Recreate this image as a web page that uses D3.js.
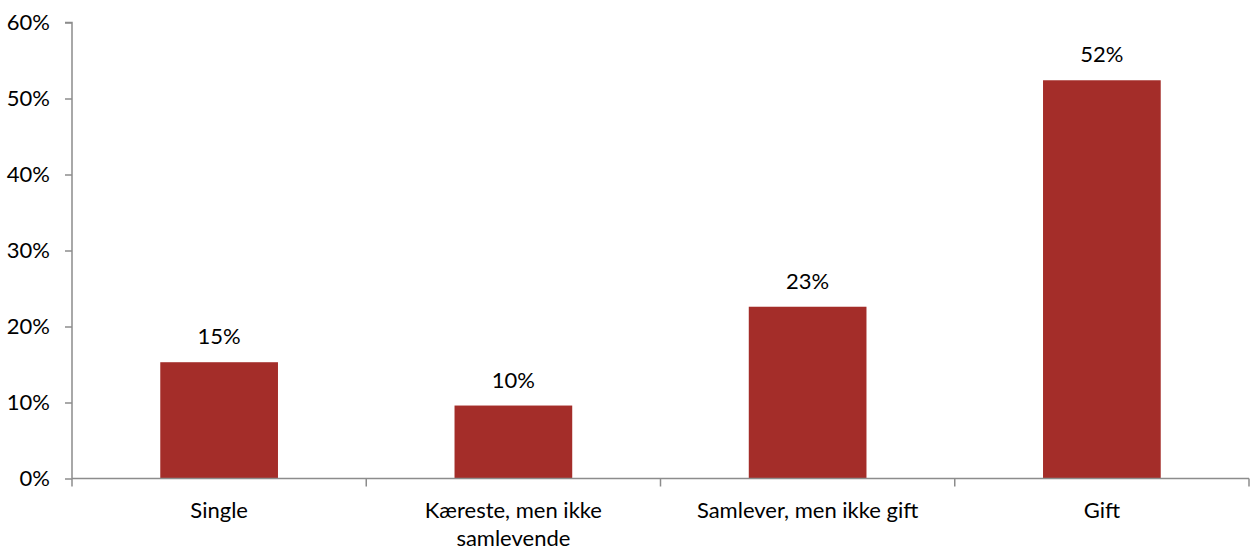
<!DOCTYPE html>
<html><head><meta charset="utf-8">
<script src="https://cdn.jsdelivr.net/npm/d3@7"></script>
<style>body{margin:0;background:#fff}svg text{font-family:Lato,"Open Sans",sans-serif;fill:#000}</style>
</head><body><svg id="c" width="1250" height="546"></svg>
<script>
const categories = [["Single"], ["Kæreste, men ikke", "samlevende"], ["Samlever, men ikke gift"], ["Gift"]];
const values = [15.3, 9.6, 22.6, 52.4];
const valueLabels = ["15%", "10%", "23%", "52%"];
const yTicks = [0, 10, 20, 30, 40, 50, 60];

const svg = d3.select("#c");
const fs = 22;
const mLeft = 72, mRight = 1249, mTop = 22.5, mBottom = 478.5;
const x = d3.scaleBand().domain(d3.range(categories.length)).range([mLeft, mRight]).padding(0);
const y = d3.scaleLinear().domain([0, 60]).range([mBottom, mTop]);
const bw = x.bandwidth() * 0.4;
const axisColor = "#8c8c8c";

// bars
svg.selectAll("rect.bar").data(values).join("rect")
  .attr("x", (d, i) => x(i) + (x.bandwidth() - bw) / 2)
  .attr("y", d => y(d)).attr("width", bw).attr("height", d => y(0) - y(d))
  .attr("fill", "#A42D29");

// value labels
svg.selectAll("text.val").data(values).join("text")
  .attr("x", (d, i) => x(i) + x.bandwidth() / 2).attr("y", d => y(d) - 18)
  .attr("text-anchor", "middle").attr("font-size", fs).text((d, i) => valueLabels[i]);

// y axis
const ya = svg.append("g").attr("transform", `translate(${mLeft},0)`)
  .call(d3.axisLeft(y).tickValues(yTicks).tickFormat(d => d + "%").tickSize(7).tickPadding(15));
ya.select(".domain").attr("stroke", axisColor).attr("stroke-width", 1.5);
ya.selectAll(".tick line").attr("stroke", axisColor).attr("stroke-width", 1.5);
ya.selectAll(".tick text").attr("font-size", fs).attr("font-family", "Lato,'Open Sans',sans-serif").attr("fill", "#000");
ya.select(".domain").attr("d", `M-7,${mTop}H0V${mBottom}`);

// x axis
const xa = svg.append("g").attr("transform", `translate(0,${mBottom})`);
xa.append("line").attr("x1", mLeft).attr("x2", mRight).attr("y1", 0).attr("y2", 0)
  .attr("stroke", axisColor).attr("stroke-width", 1.5);
const bounds = d3.range(categories.length + 1).map(i => i < categories.length ? x(i) : x(i - 1) + x.bandwidth());
xa.selectAll("line.t").data(bounds).join("line").attr("class", "t")
  .attr("x1", d => d).attr("x2", d => d).attr("y1", 0).attr("y2", 8)
  .attr("stroke", axisColor).attr("stroke-width", 1.5);
categories.forEach((lines, i) => {
  const t = xa.append("text").attr("text-anchor", "middle").attr("font-size", fs)
    .attr("x", x(i) + x.bandwidth() / 2).attr("y", 39);
  lines.forEach((l, j) => t.append("tspan").attr("x", x(i) + x.bandwidth() / 2).attr("dy", j ? 28 : 0).text(l));
});
</script></body></html>
